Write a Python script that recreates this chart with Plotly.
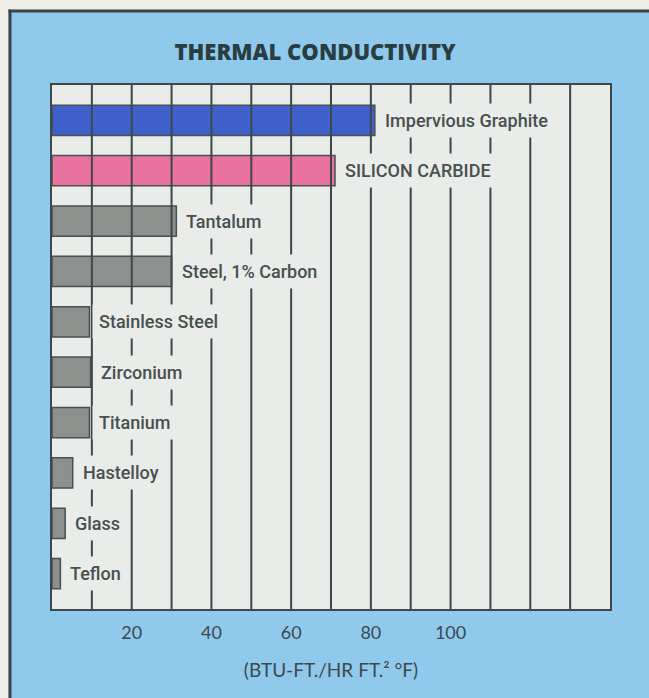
import plotly.graph_objects as go

# ---- data ----
materials = ["Impervious Graphite", "SILICON CARBIDE", "Tantalum", "Steel, 1% Carbon",
             "Stainless Steel", "Zirconium", "Titanium", "Hastelloy", "Glass", "Teflon"]
conductivity = [81, 71, 31.2, 30, 9.4, 9.7, 9.4, 5.2, 3.3, 2.1]
bar_colors = ["#3f5fca", "#e8719f", "#8d908d", "#8d908d", "#8d908d",
              "#8d908d", "#8d908d", "#8d908d", "#8d908d", "#8d908d"]
tick_values = [20, 40, 60, 80, 100]
tick_labels = ["20", "40", "60", "80", "100"]
grid_values = list(range(10, 140, 10))
x_max = 140

title_text = "THERMAL CONDUCTIVITY"
x_title = "(BTU-FT./HR FT.² °F)"

# ---- style ----
BLUE_BG = "#8fc9ec"
OFF_WHITE = "#eeede7"
PLOT_BG = "#e9ece8"
DARK = "#3f4848"
TEXT = "#3c4a4e"
LABEL_FONT = "Roboto, Liberation Sans Narrow, sans-serif"

W, H = 649, 698
L, R, T, B = 52, 39, 85, 89
pw, ph = W - L - R, H - T - B

def px_x(p):
    return (p - L) / pw

def px_y(p):
    return (H - B - p) / ph

fig = go.Figure()
fig.add_trace(go.Bar(
    x=conductivity, y=materials, orientation="h",
    marker=dict(color=bar_colors, line=dict(color="#4a5050", width=1.5)),
    width=0.6, showlegend=False, hoverinfo="x+y",
))

shapes = []
# gridlines above bars
for g in grid_values:
    shapes.append(dict(type="line", xref="x", yref="paper", x0=g, x1=g, y0=0, y1=1,
                       line=dict(color=DARK, width=2), layer="above"))
# outer off-white strips and border
shapes.append(dict(type="rect", xref="paper", yref="paper",
                   x0=-0.3, x1=1.3, y0=px_y(10), y1=px_y(-20),
                   fillcolor=OFF_WHITE, line=dict(width=0), layer="above"))
shapes.append(dict(type="rect", xref="paper", yref="paper",
                   x0=px_x(-20), x1=px_x(8.5), y0=px_y(720), y1=px_y(-20),
                   fillcolor=OFF_WHITE, line=dict(width=0), layer="above"))
shapes.append(dict(type="line", xref="paper", yref="paper",
                   x0=px_x(8.5), x1=px_x(660), y0=px_y(11), y1=px_y(11),
                   line=dict(color="#3a4444", width=3), layer="above"))
shapes.append(dict(type="line", xref="paper", yref="paper",
                   x0=px_x(10), x1=px_x(10), y0=px_y(720), y1=px_y(9.5),
                   line=dict(color="#3a4444", width=3), layer="above"))

annotations = []
for m, v in zip(materials, conductivity):
    annotations.append(dict(
        x=v, y=m, xref="x", yref="y", text=m, showarrow=False,
        xanchor="left", yanchor="middle", xshift=3,
        font=dict(family=LABEL_FONT, size=18, color="#475050", weight=500),
        bgcolor=PLOT_BG, borderpad=6,
    ))

fig.update_layout(
    width=W, height=H,
    margin=dict(l=L, r=R, t=T, b=B),
    paper_bgcolor=BLUE_BG, plot_bgcolor=PLOT_BG,
    title=dict(text=title_text, x=315 / W, xref="container", xanchor="center",
               y=1 - 52 / H, yref="container", yanchor="middle",
               font=dict(family="Open Sans, sans-serif", size=22, color="#2a3e42", weight=800)),
    xaxis=dict(range=[0, x_max], tickvals=tick_values, ticktext=tick_labels,
               showgrid=False, zeroline=False, ticks="", ticklabelstandoff=6,
               showline=True, mirror=True, linecolor=DARK, linewidth=2,
               tickfont=dict(family="Lato, sans-serif", size=18, color=TEXT),
               title=dict(text=x_title, standoff=22,
                          font=dict(family="Lato, sans-serif", size=19, color=TEXT))),
    yaxis=dict(range=[9.7, -0.7], showticklabels=False, showgrid=False, zeroline=False,
               ticks="", showline=True, mirror=True, linecolor=DARK, linewidth=2),
    shapes=shapes, annotations=annotations, bargap=0.4,
)

fig.write_html("out.html")
